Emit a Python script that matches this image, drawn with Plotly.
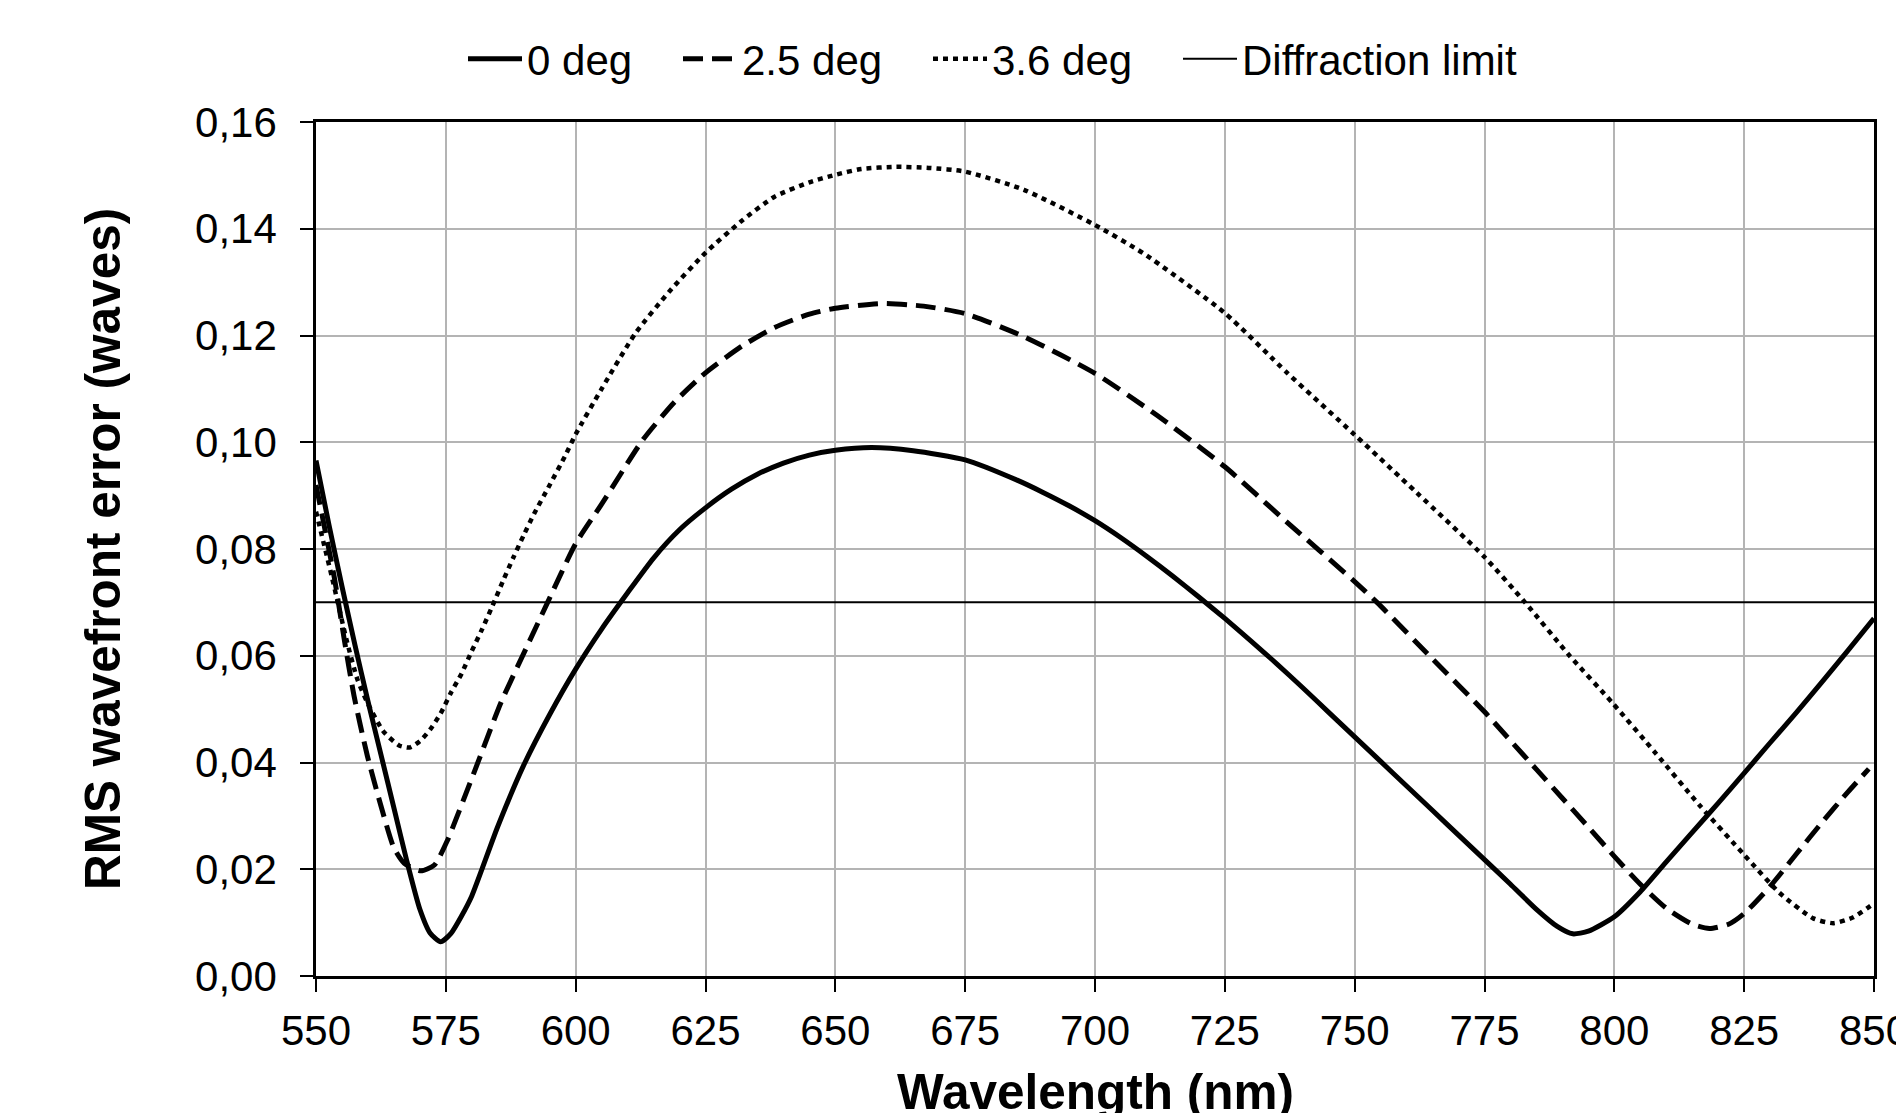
import plotly.graph_objects as go

# ---- data ----
wl_0 = [550, 552.5, 555, 557.5, 560, 562.5, 565, 567.5, 570, 572, 574, 576, 578, 580, 585, 590,
        595, 600, 605, 610, 615, 620, 625, 630, 635, 640, 645, 650, 657, 665, 675, 685, 690, 695,
        700, 705, 710, 715, 720, 725, 730, 735, 740, 745, 750, 755, 760, 765, 770, 775, 780, 785,
        789, 792, 795, 800, 805, 810, 815, 820, 825, 830, 835, 840, 845, 850]
rms_0 = [0.0966, 0.0845, 0.0730, 0.0620, 0.0515, 0.0415, 0.0315, 0.0215, 0.0125, 0.0080, 0.0064,
         0.0080, 0.0112, 0.0150, 0.0280, 0.0395, 0.0490, 0.0575, 0.0650, 0.0718, 0.0783, 0.0836,
         0.0877, 0.0912, 0.0940, 0.0961, 0.0976, 0.0985, 0.0990, 0.0984, 0.0967, 0.0929, 0.0906,
         0.0881, 0.0853, 0.0821, 0.0786, 0.0749, 0.0710, 0.0670, 0.0628, 0.0585, 0.0540, 0.0494,
         0.0448, 0.0402, 0.0356, 0.0310, 0.0264, 0.0218, 0.0172, 0.0125, 0.0093, 0.0079, 0.0084,
         0.0111, 0.0158, 0.0214, 0.0269, 0.0324, 0.0380, 0.0437, 0.0493, 0.0551, 0.0610, 0.0670]

wl_25 = [550, 553.5, 555.4, 557.3, 559.9, 562.5, 565, 567, 570.2, 572.8, 575.3, 580.5, 585.6,
         590.7, 594.6, 600, 605, 612.9, 619, 625, 632, 638.3, 645, 650, 659, 667, 675, 686.3, 700,
         712, 725, 737, 750, 754.3, 765, 775, 780, 785, 790, 795, 800, 805, 810, 815, 818.3, 822,
         825, 830, 835, 840, 845, 849]
rms_25 = [0.0920, 0.0748, 0.0633, 0.0526, 0.0412, 0.0319, 0.0240, 0.0211, 0.0197, 0.0208, 0.0254,
          0.0383, 0.0512, 0.0619, 0.0700, 0.0810, 0.0884, 0.1004, 0.1075, 0.1130, 0.1180, 0.1215,
          0.1240, 0.1251, 0.1260, 0.1255, 0.1241, 0.1198, 0.1129, 0.1050, 0.0954, 0.0850, 0.0739,
          0.0700, 0.0594, 0.0495, 0.0441, 0.0387, 0.0333, 0.0279, 0.0224, 0.0172, 0.0127, 0.0097,
          0.0089, 0.0097, 0.0117, 0.0168, 0.0228, 0.0288, 0.0345, 0.0388]

wl_36 = [550, 553, 556, 558, 560, 563, 566, 568, 570, 572, 574, 576, 578, 580, 582, 584, 586, 588,
         590, 592, 595, 598, 600, 605, 611.5, 618, 625, 632, 638.3, 645, 650, 655, 661.7, 668, 675,
         686.3, 700, 709.3, 725, 737, 750, 762, 775, 782.8, 791.3, 799.7, 808, 816.4, 825, 831.9,
         838.3, 842.2, 846, 850]
rms_36 = [0.0870, 0.0750, 0.0625, 0.0555, 0.0510, 0.0458, 0.0432, 0.0428, 0.0440, 0.0462, 0.0492,
          0.0531, 0.0566, 0.0609, 0.0650, 0.0694, 0.0740, 0.0784, 0.0826, 0.0866, 0.0920, 0.0975,
          0.1015, 0.1100, 0.1204, 0.1282, 0.1355, 0.1415, 0.1460, 0.1487, 0.1501, 0.1512, 0.1516,
          0.1514, 0.1507, 0.1473, 0.1407, 0.1354, 0.1242, 0.1130, 0.1014, 0.0905, 0.0785, 0.0700,
          0.0601, 0.0511, 0.0417, 0.0320, 0.0227, 0.0155, 0.0108, 0.0099, 0.0110, 0.0136]

wl_limit = [550, 850]
rms_limit = [0.07, 0.07]

names = ["0 deg", "2.5 deg", "3.6 deg", "Diffraction limit"]
x_ticks = [550, 575, 600, 625, 650, 675, 700, 725, 750, 775, 800, 825, 850]
y_ticks = [0.00, 0.02, 0.04, 0.06, 0.08, 0.10, 0.12, 0.14, 0.16]

FONT = "Liberation Sans, Arial, sans-serif"
W, H = 1896, 1113
L, R, T, B = 316, 22, 122, 137

fig = go.Figure()
fig.add_trace(go.Scatter(x=wl_0, y=rms_0, name=names[0], mode="lines",
                         line=dict(color="black", width=5, shape="spline", smoothing=0.6),
                         legendwidth=146))
fig.add_trace(go.Scatter(x=wl_25, y=rms_25, name=names[1], mode="lines",
                         line=dict(color="black", width=5, dash="20px,9px", shape="spline", smoothing=0.6),
                         legendwidth=181))
fig.add_trace(go.Scatter(x=wl_36, y=rms_36, name=names[2], mode="lines",
                         line=dict(color="black", width=4.5, dash="5px,5px", shape="spline", smoothing=0.6),
                         legendwidth=181))
fig.add_trace(go.Scatter(x=wl_limit, y=rms_limit, name=names[3], mode="lines",
                         line=dict(color="black", width=2)))

axis_common = dict(
    showline=True, linecolor="black", linewidth=2.5, mirror=True,
    showgrid=True, gridcolor="#b4b4b4", gridwidth=1.5,
    ticks="outside", ticklen=13, tickwidth=2, tickcolor="black",
    tickfont=dict(family=FONT, size=42, color="black"),
    zeroline=False, automargin=False, ticklabeloverflow="allow",
)

fig.update_xaxes(range=[550, 850], tickmode="array", tickvals=x_ticks,
                 ticktext=[str(v) for v in x_ticks], ticklabelstandoff=3, **axis_common)
fig.update_yaxes(range=[0, 0.16], tickmode="array", tickvals=y_ticks, tickformat=".2f",
                 ticklabelstandoff=15, **axis_common)

fig.add_annotation(text="<b>RMS wavefront error (waves)</b>", textangle=-90,
                   xref="paper", yref="paper", x=(102 - L) / (W - L - R), y=0.5,
                   xanchor="center", yanchor="middle", showarrow=False,
                   font=dict(family=FONT, size=49.5, color="black"))
fig.add_annotation(text="<b>Wavelength (nm)</b>",
                   xref="paper", yref="paper", x=0.5, y=(H - B - 1062) / (H - T - B),
                   xanchor="center", yanchor="top", showarrow=False,
                   font=dict(family=FONT, size=49.5, color="black"))

fig.update_layout(
    width=W, height=H,
    margin=dict(l=L, r=R, t=T, b=B, pad=0),
    paper_bgcolor="white", plot_bgcolor="white",
    separators=",.",
    font=dict(family=FONT, color="black"),
    showlegend=True,
    legend=dict(orientation="h", xref="container", yref="container",
                x=463 / W, y=1 - 59 / H, xanchor="left", yanchor="middle",
                font=dict(family=FONT, size=42, color="black"),
                itemwidth=54, bgcolor="rgba(0,0,0,0)", borderwidth=0,
                traceorder="normal"),
)

fig.write_html("out.html", include_plotlyjs=True, config={"displayModeBar": False},
               post_script="document.body.style.margin='0';document.body.style.overflow='hidden';")
